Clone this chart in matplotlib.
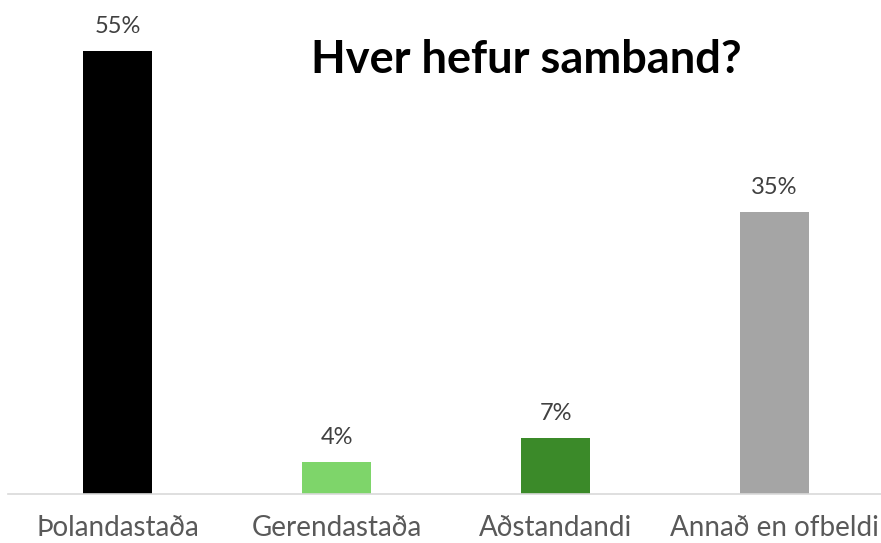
import matplotlib
matplotlib.use("Agg")
import matplotlib.pyplot as plt

categories = ["Þolandastaða", "Gerendastaða", "Aðstandandi", "Annað en ofbeldi"]
values = [55, 4, 7, 35]
labels = ["55%", "4%", "7%", "35%"]
colors = ["#000000", "#7ed56a", "#3b8a29", "#a5a5a5"]
title = "Hver hefur samband?"

plt.rcParams['font.family'] = ['Lato', 'DejaVu Sans']

W, H = 881, 543
fig = plt.figure(figsize=(W/100, H/100), dpi=100)
ax = fig.add_axes([8/W, 1 - 494/H, (884-8)/W, (494-11)/H])
x = range(len(categories))
ax.bar(x, values, width=0.315, color=colors, zorder=2)
ax.set_xlim(-0.5, 3.5)
ax.set_ylim(0, 60)
for xi, v, l in zip(x, values, labels):
    ax.annotate(l, (xi, v), xytext=(0, 10), textcoords="offset points",
                ha="center", va="bottom", fontsize=17, color="#404040")
ax.set_xticks(list(x))
ax.set_xticklabels(categories, fontsize=20, color="#595959")
ax.tick_params(axis='x', length=0, pad=15)
ax.set_yticks([])
for s in ["top", "left", "right"]:
    ax.spines[s].set_visible(False)
ax.spines["bottom"].set_color("#d9d9d9")
ax.spines["bottom"].set_linewidth(1.2)
fig.text(526/W, 1 - 60/H, title, ha="center", va="center", fontsize=32.5,
         fontweight="bold", color="#000000")
fig.savefig("out.png", dpi=100)
